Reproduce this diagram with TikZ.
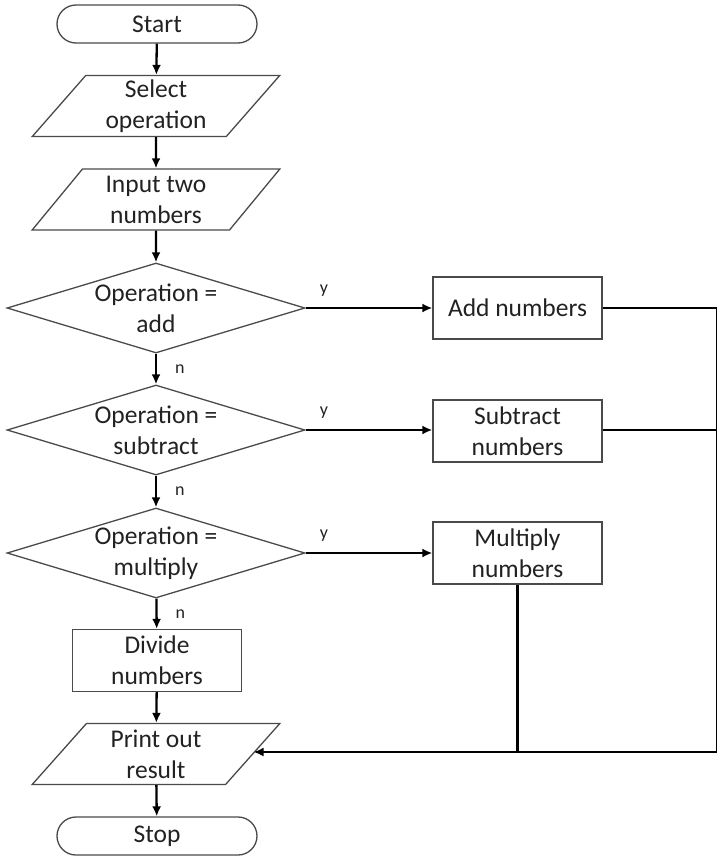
\documentclass[tikz,border=0pt]{standalone}
\usepackage{fontspec}
\setmainfont{Carlito}
\usetikzlibrary{shapes.geometric,arrows.meta,positioning}
\definecolor{inkgray}{HTML}{222222}
\definecolor{edgegray}{HTML}{4a4a4a}
\begin{document}
\begin{tikzpicture}[x=1pt, y=-1pt, >={Latex[length=10pt,width=9pt]},
  every node/.style={font=\fontsize{25.5}{31}\selectfont, text=inkgray},
  term/.style={draw=edgegray, line width=1.3pt, rounded corners=19pt, minimum width=200, minimum height=38, inner sep=0pt},
  io/.style={draw=edgegray, line width=1.3pt, trapezium, trapezium left angle=54, trapezium right angle=126, trapezium stretches=true, minimum width=248, minimum height=61, inner sep=0pt, align=center},
  decide/.style={draw=edgegray, line width=1.3pt, diamond, shape aspect=3.3, minimum width=298, minimum height=90, inner sep=-4pt, align=center},
  proc/.style={draw=edgegray, line width=1.3pt, minimum width=169, minimum height=62, inner sep=0pt, align=center},
  flow/.style={line width=2.3pt},
  tag/.style={font=\fontsize{18}{20}\selectfont, inner sep=0pt}]
\useasboundingbox (0,0) rectangle (716,857);
\node[term] (start) at (157,24) {Start};
\node[io] (select) at (156,106) {Select\\operation};
\node[io] (input) at (156,199.5) {Input two\\numbers};
\node[decide] (isadd) at (156,308) {Operation =\\add};
\node[decide] (issub) at (156,430) {Operation =\\subtract};
\node[decide] (ismul) at (156,553) {Operation =\\multiply};
\node[proc] (divide) at (157,660.5) {Divide\\numbers};
\node[io] (print) at (156,754) {Print out\\result};
\node[term] (stop) at (157,836) {Stop};
\node[proc] (add) at (517.5,308) {Add numbers};
\node[proc] (sub) at (517.5,431) {Subtract\\numbers};
\node[proc] (mul) at (517.5,553) {Multiply\\numbers};
\coordinate (edge) at (717.4,752);
\draw[flow,->] (start) -- (select);
\draw[flow,->] (select) -- (input);
\draw[flow,->] (input) -- (isadd);
\draw[flow,->] (isadd) -- node[tag, right=18pt, pos=0.5] (n1) {n} (issub);
\draw[flow,->] (issub) -- node[tag, right=18pt, pos=0.5] (n2) {n} (ismul);
\draw[flow,->] (ismul) -- node[tag, right=18pt, pos=0.5] (n3) {n} (divide);
\draw[flow,->] (divide) -- (print);
\draw[flow,->] (print) -- (stop);
\draw[flow,->] (isadd.east) -- node[tag, above right=10pt and 13pt, pos=0] (y1) {y} (add);
\draw[flow,->] (issub.east) -- node[tag, above right=10pt and 13pt, pos=0] (y2) {y} (issub.east -| sub.west);
\draw[flow,->] (ismul.east) -- node[tag, above right=10pt and 13pt, pos=0] (y3) {y} (mul);
\draw[flow] (add) -- (add -| edge) -- (edge);
\draw[flow] (sub.east |- issub.east) -- (issub.east -| edge);
\draw[flow] (mul) -- (mul |- edge);
\draw[flow,->] (edge) -- (edge -| print.east);
\end{tikzpicture}
\end{document}
